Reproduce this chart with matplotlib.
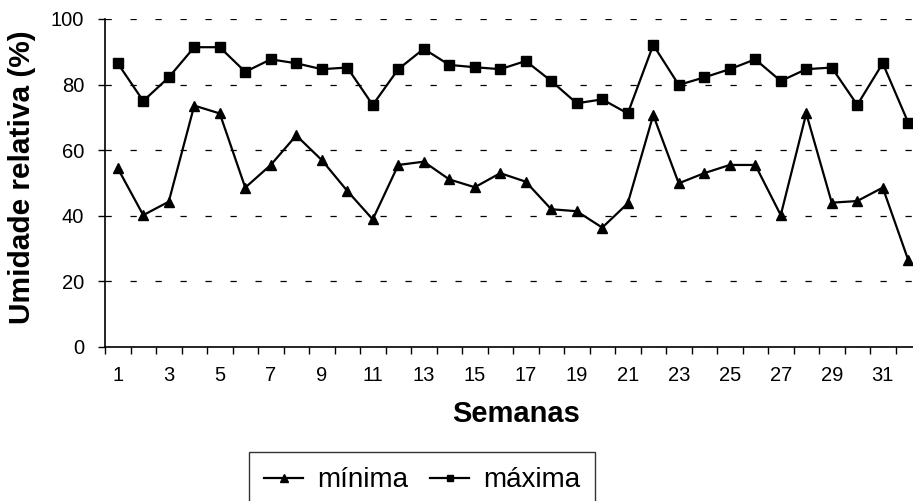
import matplotlib
matplotlib.use("Agg")
from matplotlib import pyplot as plt
import numpy as np

plt.rcParams["font.family"] = ["Liberation Sans", "DejaVu Sans"]

# weekly relative humidity (%)
semanas = np.arange(1, 33)
minima = [54.5, 40.2, 44.3, 73.6, 71.2, 48.6, 55.5, 64.5, 57.0, 47.6,
          38.9, 55.5, 56.5, 51.1, 48.7, 53.0, 50.4, 42.0, 41.4, 36.4,
          43.8, 70.7, 49.9, 53.0, 55.5, 55.5, 40.2, 71.2, 44.0, 44.5,
          48.6, 26.5]
maxima = [86.5, 75.0, 82.2, 91.4, 91.4, 83.9, 87.7, 86.5, 84.7, 85.2,
          73.8, 84.7, 90.9, 86.0, 85.3, 84.7, 87.2, 81.1, 74.3, 75.5,
          71.2, 92.1, 79.9, 82.2, 84.7, 87.7, 81.1, 84.7, 85.2, 73.8,
          86.5, 68.4]
y_ticks = [0, 20, 40, 60, 80, 100]
x_labels = [str(s) for s in semanas[::2]]

fig = plt.figure(figsize=(9.13, 5.01), dpi=100)
# the original chart is cut off on the right edge, so the axes run past the figure
ax = fig.add_axes([105 / 913, 154 / 501, 816 / 913, 328 / 501])

ax.plot(semanas, minima, color="black", lw=1.6, marker="^", markersize=7.5,
        label="mínima", clip_on=False)
ax.plot(semanas, maxima, color="black", lw=1.6, marker="s", markersize=7,
        label="máxima", clip_on=False)

ax.set_xlim(0.5, 32.5)
ax.set_ylim(0, 100)

ax.set_yticks(y_ticks)
ax.yaxis.grid(True, color="black", lw=0.9, linestyle=(0, (5, 15)))
ax.set_axisbelow(True)
ax.tick_params(axis="y", direction="out", length=5, width=1, pad=10,
               labelsize=14.5, colors="black")

ax.set_xticks(semanas[::2])
ax.set_xticklabels(x_labels)
ax.set_xticks(np.arange(0.5, 33, 1), minor=True)
ax.tick_params(axis="x", which="major", length=0, pad=14, labelsize=14.5)
ax.tick_params(axis="x", which="minor", direction="out", length=5, width=1)

for side in ["top", "right"]:
    ax.spines[side].set_visible(False)
for side in ["left", "bottom"]:
    ax.spines[side].set_linewidth(1.2)
    ax.spines[side].set_color("black")

fig.text(22 / 913, 1 - 177 / 501, "Umidade relativa (%)", rotation=90,
         ha="center", va="center", fontsize=21.5, fontweight="bold")
fig.text(516 / 913, 1 - 414 / 501, "Semanas", ha="center", va="center",
         fontsize=21, fontweight="bold")

leg = fig.legend(loc="upper left", bbox_to_anchor=(249 / 913, 1 - 452 / 501),
                 ncol=2, fontsize=20, frameon=True, fancybox=False,
                 edgecolor="black", borderpad=0.55, handlelength=1.4,
                 handletextpad=0.5, columnspacing=0.8, markerscale=0.7,
                 borderaxespad=0)
leg.get_frame().set_linewidth(1.0)

fig.savefig("out.png", dpi=100)
